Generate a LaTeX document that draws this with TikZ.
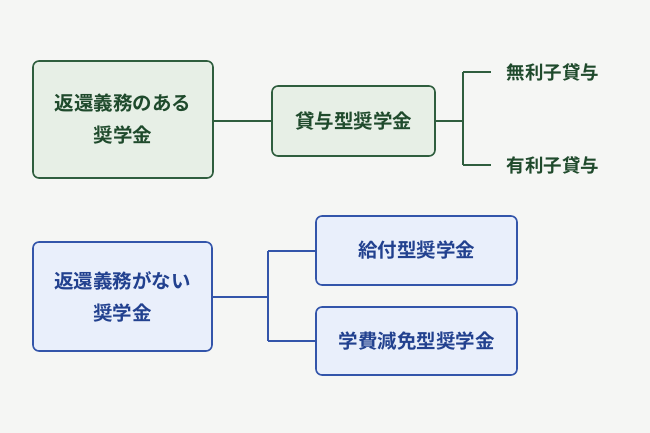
\documentclass[tikz,border=0pt]{standalone}
\usepackage{fontspec}
\newfontfamily\cjk{Noto Sans CJK JP}[BoldFont={Noto Sans CJK JP Bold}]
\usetikzlibrary{positioning}
\definecolor{grline}{HTML}{2F5E3E}
\definecolor{grfill}{HTML}{E7EFE6}
\definecolor{grtext}{HTML}{1F4A2C}
\definecolor{blline}{HTML}{3355AA}
\definecolor{blfill}{HTML}{E9EFFB}
\definecolor{bltext}{HTML}{22418F}
\definecolor{bgpaper}{HTML}{F5F6F4}
\tikzset{green box/.style={draw=grline, fill=grfill, line width=1.6pt, rounded corners=6pt,
           text=grtext, font=\cjk\fontsize{19.5}{32}\selectfont\bfseries, align=center},
         blue box/.style={draw=blline, fill=blfill, line width=1.6pt, rounded corners=6pt,
           text=bltext, font=\cjk\fontsize{19.5}{32}\selectfont\bfseries, align=center},
         green line/.style={draw=grline, line width=2pt},
         blue line/.style={draw=blline, line width=2pt}}
\begin{document}
\begin{tikzpicture}[x=1pt,y=-1pt]
	\fill[bgpaper] (0,0) rectangle (650,433);
	\useasboundingbox (0,0) rectangle (650,433);

	% loan type
	\node[green box, minimum width=180pt, minimum height=117pt] (repay) at (123,119.5) {返還義務のある\\奨学金};
	\node[green box, minimum width=163pt, minimum height=70pt] (loan) at (353.5,121) {貸与型奨学金};
	\coordinate (fork) at (463,121);
	\node[text=grtext, font=\cjk\fontsize{18.5}{20}\selectfont\bfseries, anchor=west] (free) at (503,72) {無利子貸与};
	\node[text=grtext, font=\cjk\fontsize{18.5}{20}\selectfont\bfseries, anchor=west] (paid) at (503,165) {有利子貸与};
	\draw[green line] (repay.east |- loan) -- (loan.west);
	\draw[green line] (loan.east) -- (fork);
	\draw[green line] (fork |- free) -- (fork |- paid);
	\draw[green line] (fork |- free) -- ++(28,0);
	\draw[green line] (fork |- paid) -- ++(28,0);

	% grant type
	\node[blue box, minimum width=179pt, minimum height=109pt] (norepay) at (122.5,296.5) {返還義務がない\\奨学金};
	\node[blue box, minimum width=201pt, minimum height=69pt] (grant) at (416.5,250.5) {給付型奨学金};
	\node[blue box, minimum width=201pt, minimum height=68pt] (waive) at (416.5,341) {学費減免型奨学金};
	\coordinate (split) at (268,296.5);
	\draw[blue line] (norepay.east) -- (split);
	\draw[blue line] (split |- grant) -- (split |- waive);
	\draw[blue line] (split |- grant) -- (grant.west);
	\draw[blue line] (split |- waive) -- (waive.west);
\end{tikzpicture}
\end{document}
